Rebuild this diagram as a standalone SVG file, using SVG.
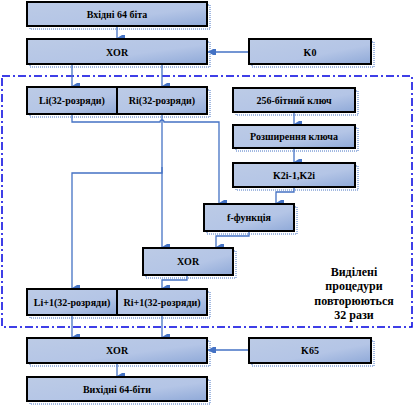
<svg xmlns="http://www.w3.org/2000/svg" width="413" height="406" viewBox="0 0 413 406">
<defs>
<linearGradient id="g" x1="0" y1="0" x2="1" y2="1">
<stop offset="0" stop-color="#bccbe6"/>
<stop offset="0.6" stop-color="#b4c5e6"/>
<stop offset="1" stop-color="#8fa9d8"/>
</linearGradient>
<marker id="a" viewBox="0 0 8 8" refX="4" refY="8" markerWidth="8" markerHeight="8" markerUnits="userSpaceOnUse" orient="auto-start-reverse">
<path d="M1,0 H7 V3 L4,8 L1,3 Z" fill="#4472c4"/>
</marker>
<marker id="ah" viewBox="0 0 8 8" refX="8" refY="4" markerWidth="8" markerHeight="8" markerUnits="userSpaceOnUse" orient="auto">
<path d="M0,1 V7 H3 L8,4 L3,1 Z" fill="#4472c4"/>
</marker>
</defs>
<style>
.box{fill:url(#g);stroke:#000;stroke-width:2}
.sh{fill:none;stroke:#4472c4;stroke-width:1;stroke-dasharray:1 1}
.t{font-family:"Liberation Serif",serif;font-weight:bold;font-size:10px;fill:#000;text-anchor:middle}
.c{fill:none;stroke:#4472c4;stroke-width:1.3}
.big{font-family:"Liberation Serif",serif;font-weight:bold;font-size:12px;fill:#000;text-anchor:middle}
</style>
<rect x="2" y="76" width="410" height="251" fill="none" stroke="#0000e0" stroke-width="1.5" stroke-dasharray="8 3 2 3"/>
<g id="connectors">
<path class="c" d="M117,26 V38" marker-end="url(#a)"/>
<path class="c" d="M249,52 H208" marker-end="url(#ah)"/>
<path class="c" d="M72,64 V86" marker-end="url(#a)"/>
<path class="c" d="M162,64 V86" marker-end="url(#a)"/>
<path class="c" d="M72,114 V122 H160 A2,2 0 0 1 164,122 H219 V203" marker-end="url(#a)"/>
<path class="c" d="M162,114 V247" marker-end="url(#a)"/>
<path class="c" d="M162,167 V173 H72 V288" marker-end="url(#a)"/>
<path class="c" d="M294,112 V124" marker-end="url(#a)"/>
<path class="c" d="M294,148 V162" marker-end="url(#a)"/>
<path class="c" d="M294,187 V192 H276 V203" marker-end="url(#a)"/>
<path class="c" d="M249,231 V236 H216 V247" marker-end="url(#a)"/>
<path class="c" d="M187,275 V280 H162 V288" marker-end="url(#a)"/>
<path class="c" d="M72,315 V337" marker-end="url(#a)"/>
<path class="c" d="M162,315 V337" marker-end="url(#a)"/>
<path class="c" d="M249,350 H208" marker-end="url(#ah)"/>
<path class="c" d="M117,363 V376" marker-end="url(#a)"/>
</g>
<g id="in">
<rect class="sh" x="30" y="5" width="180" height="24"/>
<rect class="box" x="27" y="2" width="180" height="24"/>
<text class="t" x="117" y="18">Вхідні 64 біта</text>
</g>
<g id="xor1">
<rect class="sh" x="30" y="42" width="180" height="25"/>
<rect class="box" x="27" y="39" width="180" height="25"/>
<text class="t" x="117" y="56">XOR</text>
</g>
<g id="k0">
<rect class="sh" x="252" y="42" width="122" height="25"/>
<rect class="box" x="249" y="39" width="122" height="25"/>
<text class="t" x="310" y="56">K0</text>
</g>
<g id="li">
<rect class="sh" x="30" y="90" width="180" height="27"/>
<rect class="box" x="27" y="87" width="90" height="27"/>
<text class="t" x="72" y="104">Li(32-розряди)</text>
</g>
<g id="ri">
<rect class="box" x="117" y="87" width="90" height="27"/>
<text class="t" x="162" y="104">Ri(32-розряди)</text>
</g>
<g id="key256">
<rect class="sh" x="236" y="91" width="122" height="24"/>
<rect class="box" x="233" y="88" width="122" height="24"/>
<text class="t" x="294" y="104">256-бітний ключ</text>
</g>
<g id="expand">
<rect class="sh" x="236" y="128" width="122" height="23"/>
<rect class="box" x="233" y="125" width="122" height="23"/>
<text class="t" x="294" y="140">Розширення ключа</text>
</g>
<g id="k2i">
<rect class="sh" x="236" y="166" width="122" height="24"/>
<rect class="box" x="233" y="163" width="122" height="24"/>
<text class="t" x="294" y="179">K2i-1,K2i</text>
</g>
<g id="f">
<rect class="sh" x="207" y="207" width="90" height="27"/>
<rect class="box" x="204" y="204" width="90" height="27"/>
<text class="t" x="249" y="221">f-функція</text>
</g>
<g id="xor2">
<rect class="sh" x="146" y="251" width="90" height="27"/>
<rect class="box" x="143" y="248" width="90" height="27"/>
<text class="t" x="188" y="265">XOR</text>
</g>
<g id="li1">
<rect class="sh" x="30" y="292" width="180" height="26"/>
<rect class="box" x="27" y="289" width="90" height="26"/>
<text class="t" x="72" y="306">Li+1(32-розряди)</text>
</g>
<g id="ri1">
<rect class="box" x="117" y="289" width="90" height="26"/>
<text class="t" x="162" y="306">Ri+1(32-розряди)</text>
</g>
<g id="xor3">
<rect class="sh" x="30" y="341" width="180" height="25"/>
<rect class="box" x="27" y="338" width="180" height="25"/>
<text class="t" x="117" y="354">XOR</text>
</g>
<g id="k65">
<rect class="sh" x="252" y="341" width="122" height="25"/>
<rect class="box" x="249" y="338" width="122" height="25"/>
<text class="t" x="310" y="354">K65</text>
</g>
<g id="out">
<rect class="sh" x="30" y="380" width="180" height="24"/>
<rect class="box" x="27" y="377" width="180" height="24"/>
<text class="t" x="117" y="393">Вихідні 64-біти</text>
</g>
<g id="note">
<text class="big" x="354" y="276">Виділені</text>
<text class="big" x="354" y="290">процедури</text>
<text class="big" x="354" y="305">повторюються</text>
<text class="big" x="354" y="319">32 рази</text>
</g>
</svg>
